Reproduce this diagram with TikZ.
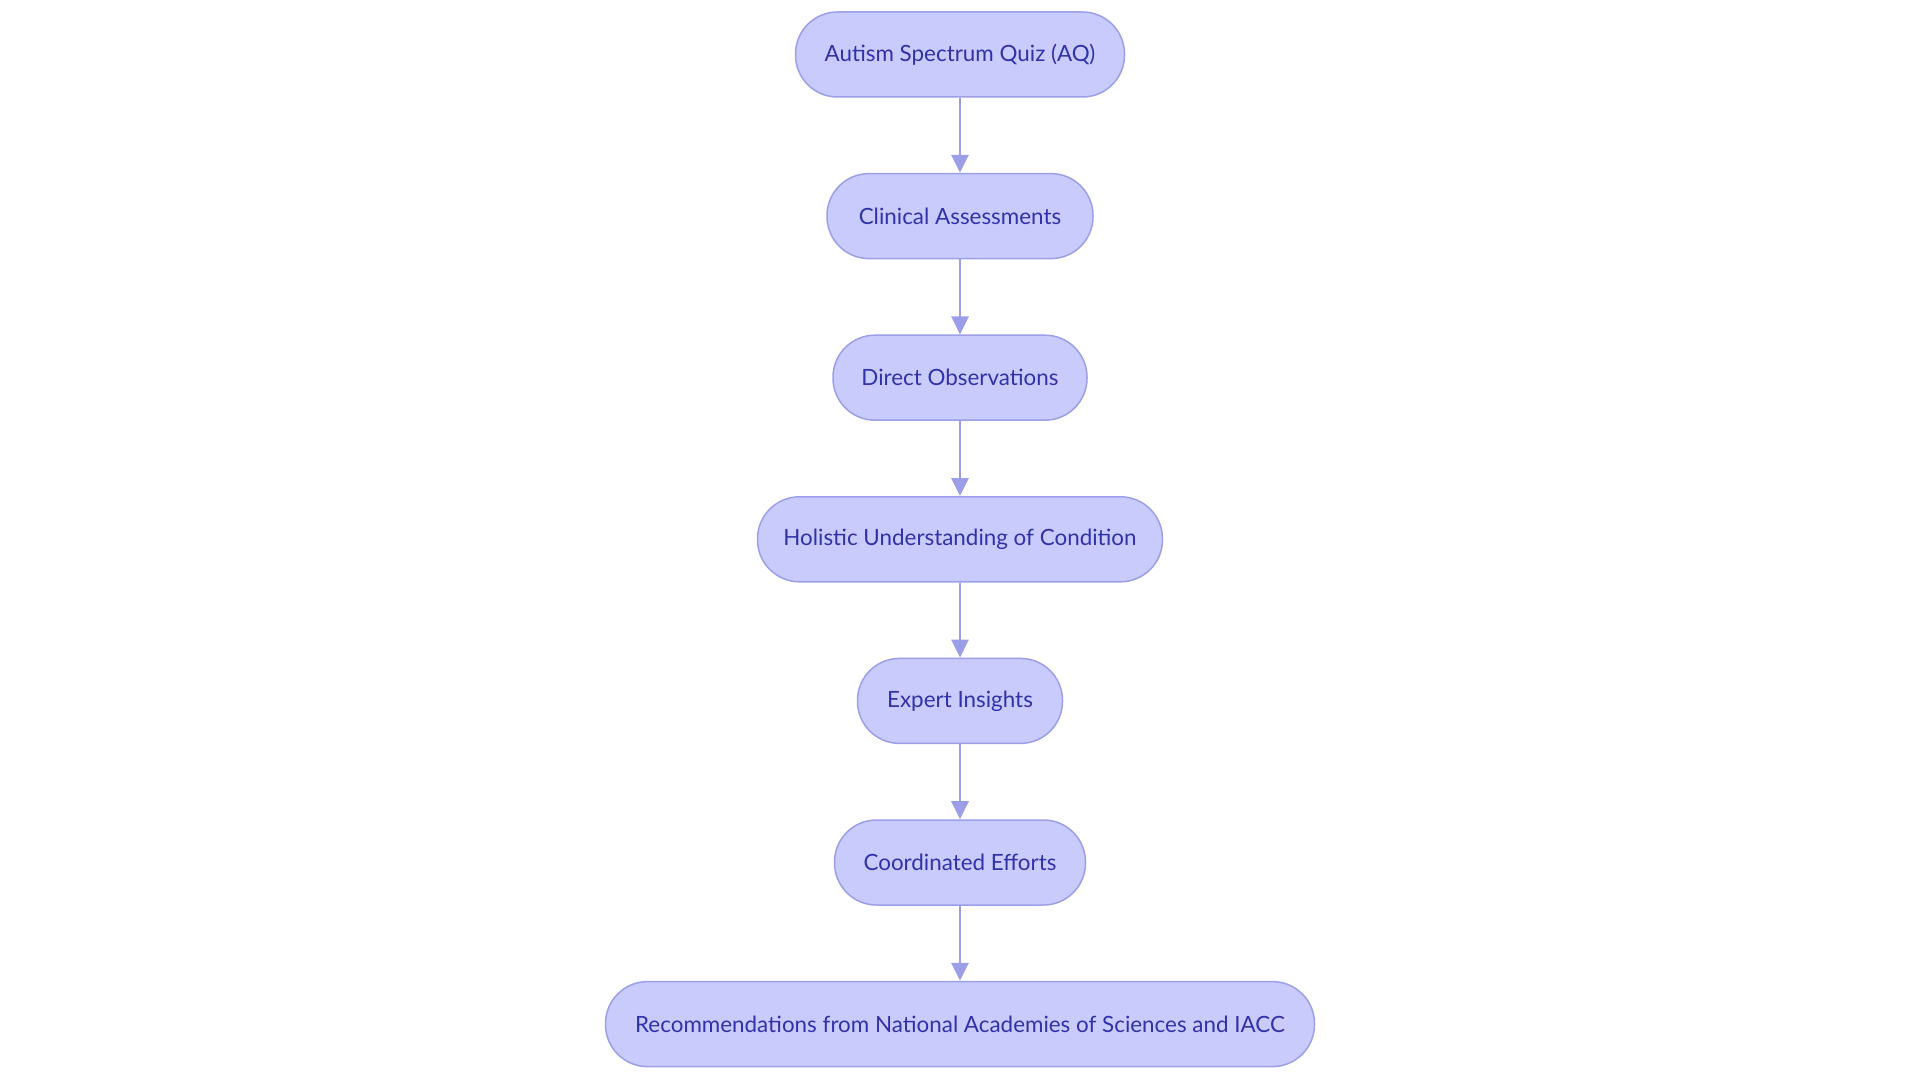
\documentclass[tikz,border=0pt]{standalone}
\usepackage{fontspec}
\setmainfont{Lato}
\usetikzlibrary{arrows.meta}
\definecolor{nodefill}{HTML}{CACBFD}
\definecolor{nodeline}{HTML}{9C9FE8}
\definecolor{nodetext}{HTML}{3132A8}
\begin{document}
\begin{tikzpicture}[x=1pt,y=1pt,
  pill/.style={draw=nodeline, line width=1.5pt, fill=nodefill, text=nodetext,
    rounded corners=42pt, minimum height=85pt, inner xsep=0pt,
    font=\fontsize{22.4}{26}\selectfont},
  flow/.style={draw=nodeline, line width=2.8pt, -{Triangle[length=18pt,width=17pt]}}]
\useasboundingbox (0,0) rectangle (1920,1080);
\node[pill, minimum width=329pt] (n1) at (960,1025.5) {Autism Spectrum Quiz (AQ)};
\node[pill, minimum width=266pt] (n2) at (960,863.9) {Clinical Assessments};
\node[pill, minimum width=254pt] (n3) at (960,702.3) {Direct Observations};
\node[pill, minimum width=405pt] (n4) at (960,540.7) {Holistic Understanding of Condition};
\node[pill, minimum width=205pt] (n5) at (960,379.1) {Expert Insights};
\node[pill, minimum width=251pt] (n6) at (960,217.5) {Coordinated Efforts};
\node[pill, minimum width=709pt] (n7) at (960,55.9) {Recommendations from National Academies of Sciences and IACC};
\draw[flow] (n1) -- (n2);
\draw[flow] (n2) -- (n3);
\draw[flow] (n3) -- (n4);
\draw[flow] (n4) -- (n5);
\draw[flow] (n5) -- (n6);
\draw[flow] (n6) -- (n7);
\end{tikzpicture}
\end{document}
